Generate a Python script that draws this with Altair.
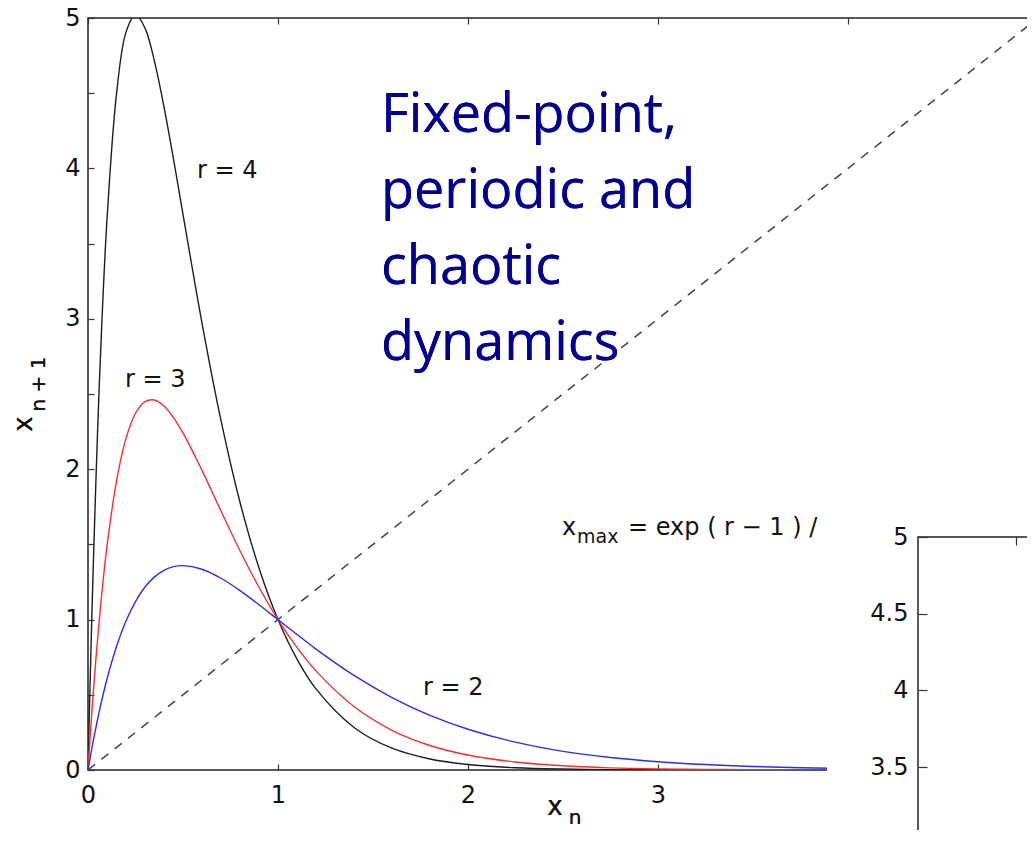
import altair as alt
import pandas as pd

# ---- data ----
X_VALUES = [0, 0.01, 0.02, 0.03, 0.05, 0.07, 0.1, 0.15, 0.2, 0.25, 0.3, 0.35, 0.4, 0.45, 0.5,
            0.6, 0.7, 0.8, 0.9, 1.0, 1.1, 1.2, 1.4, 1.6, 1.8, 2.0, 2.25, 2.5, 2.75, 3.0,
            3.25, 3.5, 3.75, 4.0, 4.5, 5.0]
Y_R4 = [0, 0.525, 1.008, 1.453, 2.235, 2.888, 3.660, 4.494, 4.906, 5.021, 4.933, 4.712, 4.409, 4.061, 3.695,
        2.972, 2.324, 1.780, 1.343, 1.0, 0.737, 0.539, 0.283, 0.145, 0.0734, 0.0366, 0.0152, 0.0062, 0.0025, 0.0010,
        0.0004, 0.0002, 0.0001, 0.0, 0.0, 0.0]
Y_R3 = [0, 0.195, 0.378, 0.551, 0.864, 1.140, 1.488, 1.921, 2.205, 2.372, 2.450, 2.460, 2.420, 2.343, 2.241,
        1.992, 1.722, 1.458, 1.215, 1.0, 0.815, 0.659, 0.422, 0.264, 0.163, 0.0996, 0.0529, 0.0278, 0.0144, 0.0074,
        0.0038, 0.0019, 0.0010, 0.0005, 0.0001, 0.0]
Y_R2 = [0, 0.072, 0.142, 0.209, 0.334, 0.450, 0.605, 0.821, 0.991, 1.120, 1.217, 1.284, 1.328, 1.352, 1.359,
        1.335, 1.275, 1.193, 1.099, 1.0, 0.901, 0.804, 0.629, 0.482, 0.363, 0.271, 0.185, 0.124, 0.083, 0.055,
        0.0361, 0.0236, 0.0153, 0.0099, 0.0041, 0.0017]
SERIES = ["r = 4", "r = 3", "r = 2"]
COLORS = ["#1e1e1e", "#ff2b2b", "#2b2bff"]

DIAG_X = [0, 5]
DIAG_Y = [0, 5]

X_DOMAIN = [0, 5]
Y_DOMAIN = [0, 5]
X_TICKS = [0, 1, 2, 3, 4]
Y_TICKS = [0, 0.5, 1, 1.5, 2, 2.5, 3, 3.5, 4, 4.5, 5]

CURVE_LABELS = ["r = 4", "r = 3", "r = 2"]
CURVE_LABEL_X = [0.574, 0.195, 1.763]
CURVE_LABEL_Y = [3.98, 2.59, 0.545]

XMAX_TEXT = ["x", "max", "= exp ( r \u2212 1 ) /"]
XMAX_X = [2.495, 2.574, 2.842]
XMAX_Y = [1.562, 1.509, 1.562]
XMAX_SIZE = [24, 19, 24]

TITLE_LINES = ["Fixed-point,", "periodic and", "chaotic", "dynamics"]

INSET_X_DOMAIN = [0, 1]
INSET_X_TICKS = [0.2]
INSET_Y_DOMAIN = [3, 5]
INSET_Y_TICKS = [3, 3.5, 4, 4.5, 5]

# ---- layout ----
W, H = 950, 752
FONT = "DejaVu Sans"

curves = pd.DataFrame({
    "x": X_VALUES * 3,
    "y": Y_R4 + Y_R3 + Y_R2,
    "series": [SERIES[0]] * len(X_VALUES) + [SERIES[1]] * len(X_VALUES) + [SERIES[2]] * len(X_VALUES),
})
diag = pd.DataFrame({"x": DIAG_X, "y": DIAG_Y})
lab = pd.DataFrame({"text": CURVE_LABELS, "x": CURVE_LABEL_X, "y": CURVE_LABEL_Y})
xmax = pd.DataFrame({"text": XMAX_TEXT, "x": XMAX_X, "y": XMAX_Y, "size": XMAX_SIZE})
inset = pd.DataFrame({"x0": [INSET_X_DOMAIN[0]], "x1": [INSET_X_DOMAIN[1]],
                      "y0": [INSET_Y_DOMAIN[0]], "y1": [INSET_Y_DOMAIN[1]]})

axis_common = dict(labelFont=FONT, labelFontSize=24, labelColor="#111", tickColor="#333",
                   tickWidth=1.2, domain=False, grid=False, title=None, labelFlush=False)

xs = lambda: alt.Scale(domain=X_DOMAIN)
ys = lambda: alt.Scale(domain=Y_DOMAIN)

curve_layer = alt.Chart(curves).mark_line(strokeWidth=1.4, clip=True, interpolate="catmull-rom").encode(
    x=alt.X("x:Q", scale=xs(),
            axis=alt.Axis(orient="bottom", values=X_TICKS, tickSize=6, offset=-6, labelPadding=13,
                          format="~g", **axis_common)),
    y=alt.Y("y:Q", scale=ys(),
            axis=alt.Axis(orient="left", values=Y_TICKS, tickSize=6, offset=-6, labelPadding=8,
                          format="~g",
                          labelExpr="datum.value % 1 === 0 ? datum.label : ''", **axis_common)),
    color=alt.Color("series:N", scale=alt.Scale(domain=SERIES, range=COLORS), legend=None),
)

diag_layer = alt.Chart(diag).mark_line(strokeWidth=1.5, strokeDash=[9, 8], color="#444").encode(
    x=alt.X("x:Q", scale=xs(),
            axis=alt.Axis(orient="top", values=X_TICKS, tickSize=6, offset=-6, labels=False,
                          **axis_common)),
    y=alt.Y("y:Q", scale=ys(),
            axis=alt.Axis(orient="right", values=Y_TICKS, tickSize=6, offset=-6, labels=False,
                          **axis_common)),
)

label_layer = alt.Chart(lab).mark_text(align="left", baseline="middle", font=FONT, fontSize=24,
                                       color="#111").encode(
    x=alt.X("x:Q", scale=xs(), axis=None),
    y=alt.Y("y:Q", scale=ys(), axis=None),
    text="text:N",
)

xmax_layer = alt.Chart(xmax).mark_text(align="left", baseline="alphabetic", font=FONT,
                                       color="#111").encode(
    x=alt.X("x:Q", scale=xs(), axis=None),
    y=alt.Y("y:Q", scale=ys(), axis=None),
    text="text:N",
    size=alt.Size("size:Q", scale=None, legend=None),
)

# axis titles with subscripts
xt1 = alt.Chart(diag).mark_text(text="x", font=FONT, fontSize=26, color="#111",
                                baseline="middle", align="center").encode(
    x=alt.value(467), y=alt.value(789))
xt2 = alt.Chart(diag).mark_text(text="n", font=FONT, fontSize=20, color="#111",
                                baseline="middle", align="center").encode(
    x=alt.value(487), y=alt.value(800))
yt1 = alt.Chart(diag).mark_text(text="x", font=FONT, fontSize=26, color="#111", angle=270,
                                baseline="middle", align="center").encode(
    x=alt.value(-64), y=alt.value(406))
yt2 = alt.Chart(diag).mark_text(text="n + 1", font=FONT, fontSize=20, color="#111", angle=270,
                                baseline="middle", align="center").encode(
    x=alt.value(-49), y=alt.value(366))

title_layer = alt.Chart(diag).mark_text(align="left", baseline="alphabetic", font="Open Sans",
                                        fontSize=54, lineHeight=76, color="#000094").encode(
    x=alt.value(293), y=alt.value(114), text=alt.value(TITLE_LINES))

# inset panel (white background, then frame with its own scales)
white = alt.Chart(diag).mark_rect(color="white").encode(
    x=alt.value(739), x2=alt.value(W + 20), y=alt.value(494), y2=alt.value(H + 120))

inset_axis = dict(labelFont=FONT, labelFontSize=24, labelColor="#111", tickColor="#333",
                  tickWidth=1.2, domain=False, grid=False, title=None, labelFlush=False, zindex=1)

inset_layer = alt.Chart(inset).mark_rect(filled=False, stroke="#222", strokeWidth=1.5).encode(
    x=alt.X("x0:Q", scale=alt.Scale(domain=INSET_X_DOMAIN, range=[830, 1320]),
            axis=alt.Axis(orient="bottom", values=INSET_X_TICKS, tickSize=8, offset=-233,
                          labels=False, **inset_axis)),
    x2="x1:Q",
    y=alt.Y("y1:Q", scale=alt.Scale(domain=INSET_Y_DOMAIN, range=[825.7, 519]),
            axis=alt.Axis(orient="left", values=INSET_Y_TICKS, tickSize=9, offset=-839,
                          labelPadding=10, format="~g", **inset_axis)),
    y2="y0:Q",
)

chart = alt.layer(
    curve_layer, diag_layer, label_layer, xmax_layer, xt1, xt2, yt1, yt2, title_layer,
    white, inset_layer,
).resolve_scale(
    x="independent", y="independent"
).resolve_axis(
    x="independent", y="independent"
).properties(
    width=W, height=H,
    autosize=alt.AutoSizeParams(type="none"),
    padding={"left": 80, "top": 10, "right": -11, "bottom": 60},
    background="white",
).configure_view(
    stroke="#222", strokeWidth=1.5
)

chart.save("out.html", embed_options={"renderer": "svg", "actions": False})
